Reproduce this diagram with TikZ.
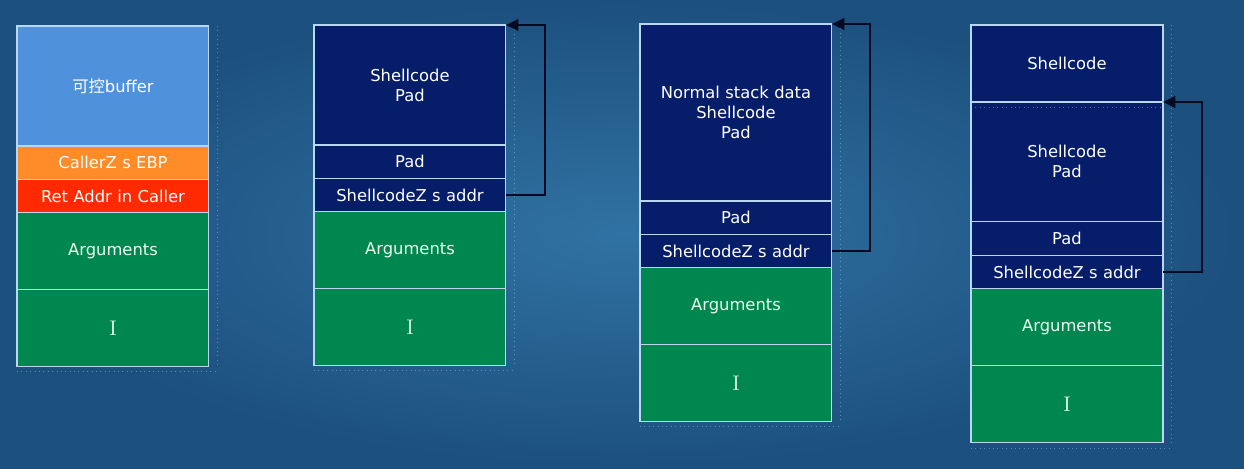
\documentclass[tikz,border=0pt]{standalone}
\usepackage{fontspec}
\setsansfont{DejaVu Sans}
\newfontfamily\cjk{Noto Sans CJK SC}
\usetikzlibrary{positioning,arrows.meta}

\definecolor{bgin}{RGB}{48,114,163}
\definecolor{bgout}{RGB}{28,80,126}
\definecolor{bufblue}{RGB}{80,145,220}
\definecolor{ebporange}{RGB}{255,140,40}
\definecolor{retred}{RGB}{255,42,0}
\definecolor{arggreen}{RGB}{0,135,80}
\definecolor{codenavy}{RGB}{6,30,105}
\definecolor{cellline}{RGB}{185,215,240}
\definecolor{jumpline}{RGB}{5,10,35}

\tikzset{
  cell/.style={draw=cellline, line width=0.6pt, minimum width=3.84cm,
    text width=3.6cm, align=center, inner sep=0pt, outer sep=0pt, text=white,
    font=\sffamily\fontsize{9.3}{11.3}\selectfont},
  buf/.style={cell, fill=bufblue},
  ebp/.style={cell, fill=ebporange},
  ret/.style={cell, fill=retred},
  arg/.style={cell, fill=arggreen, text=green!8!white},
  code/.style={cell, fill=codenavy},
  jump/.style={->, draw=jumpline, line width=1.4pt},
  ghost/.style={draw=cellline, dotted, opacity=0.4, line width=0.5pt}
}

\begin{document}
\begin{tikzpicture}[x=0.02cm, y=-0.02cm, >={Triangle[length=7pt,width=6.5pt]}]
    % background
    \shade[inner color=bgin, outer color=bgout] (0,0) rectangle (1244,468);
    \useasboundingbox (0,0) rectangle (1244,468);

    % Stack 1: normal frame
    \node[buf, minimum height=2.4cm, anchor=north west] (a1) at (17,26) {{\cjk 可控}buffer};
    \node[ebp, minimum height=0.67cm, below=0pt of a1] (a2) {CallerZ s EBP};
    \node[ret, minimum height=0.67cm, below=0pt of a2] (a3) {Ret Addr in Caller};
    \node[arg, minimum height=1.54cm, below=0pt of a3] (a4) {Arguments};
    \node[arg, minimum height=1.53cm, below=0pt of a4] (a5) {\rmfamily\large I};

    % Stack 2: shellcode in buffer
    \node[code, minimum height=2.4cm, anchor=north west] (b1) at (314,25) {Shellcode\\Pad};
    \node[code, minimum height=0.67cm, below=0pt of b1] (b2) {Pad};
    \node[code, minimum height=0.67cm, below=0pt of b2] (b3) {ShellcodeZ s addr};
    \node[arg, minimum height=1.54cm, below=0pt of b3] (b4) {Arguments};
    \node[arg, minimum height=1.53cm, below=0pt of b4] (b5) {\rmfamily\large I};

    % Stack 3: normal data before shellcode
    \node[code, minimum height=3.54cm, anchor=north west] (c1) at (640,24) {Normal stack data\\Shellcode\\Pad};
    \node[code, minimum height=0.67cm, below=0pt of c1] (c2) {Pad};
    \node[code, minimum height=0.67cm, below=0pt of c2] (c3) {ShellcodeZ s addr};
    \node[arg, minimum height=1.54cm, below=0pt of c3] (c4) {Arguments};
    \node[arg, minimum height=1.53cm, below=0pt of c4] (c5) {\rmfamily\large I};

    % Stack 4: jump into the middle
    \node[code, minimum height=1.54cm, anchor=north west] (d1) at (971,25) {Shellcode};
    \node[code, minimum height=2.39cm, below=0pt of d1] (d2) {Shellcode\\Pad};
    \node[code, minimum height=0.68cm, below=0pt of d2] (d3) {Pad};
    \node[code, minimum height=0.67cm, below=0pt of d3] (d4) {ShellcodeZ s addr};
    \node[arg, minimum height=1.54cm, below=0pt of d4] (d5) {Arguments};
    \node[arg, minimum height=1.54cm, below=0pt of d5] (d6) {\rmfamily\large I};

    % faint dotted edges
    \foreach \t/\b in {a1/a5, b1/b5, c1/c5, d1/d6} {
        \draw[ghost] ([xshift=5]\t.north east) -- ([xshift=5]\b.south east);
        \draw[ghost] ([yshift=-3]\b.south west) -- ([xshift=5,yshift=-3]\b.south east);
    }
    \draw[ghost] ([yshift=-3]d2.north west) -- ([yshift=-3]d2.north east);

    % return address arrows
    \draw[jump] (b3.east) -- ++(39,0) |- (b1.north east);
    \draw[jump] (c3.east) -- ++(38,0) |- (c1.north east);
    \draw[jump] (d4.east) -- ++(39,0) |- (d2.north east);
\end{tikzpicture}
\end{document}
